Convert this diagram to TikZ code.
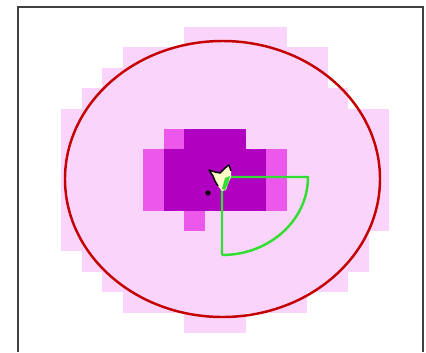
\documentclass[tikz,border=0pt]{standalone}
\usepackage{xcolor}
\usepackage{tikz}

\definecolor{cellpink}{RGB}{250,212,250}
\definecolor{cellmag}{RGB}{236,88,236}
\definecolor{celldark}{RGB}{176,0,192}
\definecolor{ringred}{RGB}{196,0,0}
\definecolor{fovgreen}{RGB}{50,222,50}
\definecolor{blobfill}{RGB}{252,252,200}

\begin{document}
\begin{tikzpicture}[x=0.03cm, y=-0.03cm,
    frame/.style={draw=black!75, line width=1.6pt},
    ring/.style={draw=ringred, line width=2.1pt},
    fov/.style={draw=fovgreen, line width=2.1pt, line join=round}]
  \useasboundingbox (0,0) rectangle (426,352);

  % outer cells
  \foreach \r/\a/\b in {0/6/10,1/3/12,2/2/12,3/1/13,4/0/15,5/0/15,6/0/15,7/0/15,
                        8/0/15,9/0/15,10/0/14,11/1/14,12/2/13,13/3/11,14/6/8}
    \fill[cellpink] ({61+20.5*\a},{27+20.4*\r}) rectangle ({61+20.5*(\b+1)},{27+20.4*(\r+1)});

  % inner cells
  \foreach \r/\a/\b in {5/5/5,6/4/4,7/4/4,8/4/4,6/10/10,7/10/10,8/10/10,9/6/6}
    \fill[cellmag] ({61+20.5*\a},{27+20.4*\r}) rectangle ({61+20.5*(\b+1)},{27+20.4*(\r+1)});
  \foreach \r/\a/\b in {5/6/8,6/5/9,7/5/9,8/5/9}
    \fill[celldark] ({61+20.5*\a},{27+20.4*\r}) rectangle ({61+20.5*(\b+1)},{27+20.4*(\r+1)});

  % frame
  \draw[frame] (18,352) -- (18,7) -- (423,7) -- (423,352);

  % ring
  \draw[ring] (222.5,179) ellipse [x radius=157.5, y radius=138];

  % sector
  \draw[fov] (222,255) -- (222,177) -- (308,177) arc[start angle=0, end angle=90, x radius=86, y radius=78];

  % blob
  \fill[blobfill]
    (209,170) -- (215,172) -- (220,173) -- (225,168) -- (229,165) -- (231,171)
    -- (231,177) -- (228,184) -- (226,190) -- (222,191) -- (218,186) -- (215,181)
    -- (213,176) -- cycle;
  \draw[black, line width=1.2pt, line join=round]
    (218,186) -- (215,181) -- (213,176) -- (209,170) -- (215,172) -- (220,173)
    -- (225,168) -- (229,165) -- (231,171);
  \fill[fovgreen] (225,178) -- (230,176) -- (228,184) -- (225,190) -- (222,189) -- cycle;
  \fill[black] (208,193) circle [radius=2.6];
\end{tikzpicture}
\end{document}
